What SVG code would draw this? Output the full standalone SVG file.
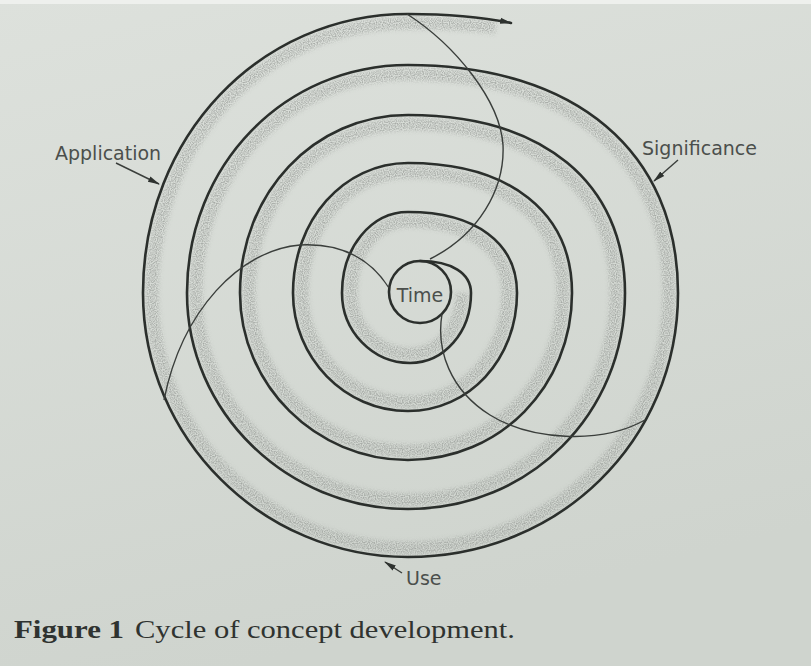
<svg xmlns="http://www.w3.org/2000/svg" width="811" height="666" viewBox="0 0 811 666">
<defs>
<linearGradient id="paper" x1="0" y1="0" x2="0.3" y2="1">
<stop offset="0" stop-color="#dde1dc"/>
<stop offset="1" stop-color="#cfd4ce"/>
</linearGradient>
<filter id="stipple" x="-5%" y="-5%" width="110%" height="110%">
<feGaussianBlur in="SourceGraphic" stdDeviation="2.2" result="b"/>
<feTurbulence type="fractalNoise" baseFrequency="0.85" numOctaves="1" seed="3" result="n"/>
<feColorMatrix in="n" type="matrix" values="0 0 0 0 0  0 0 0 0 0  0 0 0 0 0  0 0 0 -2.4 1.6" result="m"/>
<feComposite in="b" in2="m" operator="in"/>
</filter>
<marker id="ah" viewBox="0 0 12 8" refX="11" refY="4" markerWidth="12" markerHeight="8" markerUnits="userSpaceOnUse" orient="auto">
<path d="M0,1 L12,4 L0,7 z" fill="#2e322f"/>
</marker>
<style>
.ring{fill:none;stroke:#2b2f2c;stroke-width:2.6;stroke-linecap:round}
.band{fill:none;stroke:#7f847f;stroke-width:13;opacity:0.55}
.thin{fill:none;stroke:#3a3e3b;stroke-width:1.4}
.ptr{fill:none;stroke:#3a3e3b;stroke-width:1.4}
.lbl{font-family:"DejaVu Sans",sans-serif;font-size:19px;fill:#4b4f4c}
.cap{font-family:"Liberation Serif",serif;font-size:26px;fill:#2f3330}
</style>
</defs>
<rect width="811" height="666" fill="url(#paper)"/>
<rect width="811" height="4" fill="#eef0ed"/>

<g id="spiral-shading" filter="url(#stipple)">
<path class="band" d="M462,293 C462,327.2 439.1,354 410,354 C377.55,354 351,326.55 351,293 C351,252.7 376.1,221 408,221 C470,221 508,248.4 508,293 C508,354 464,402 408,402 C349.7,402 302,352.95 302,293 C302,225.2 348.6,172 408,172 C504.1,172 563,218 563,293 C563,381.5 494.8,451 408,451 C320.55,451 249,379.9 249,293 C249,198.4 319,124 408,124 C537,124 616,188.2 616,293 C616,408.9 524.5,500 408,500 C291.4,500 196,406.85 196,293 C196,170.4 289.3,74 408,74 C569.8,74 669,157.2 669,293 C669,435.8 554.2,548 408,548 C267.2,548 152,433.25 152,293 C152,141.8 264.6,23 408,23 C450,23 478,25 496,28"/>
</g>

<g id="spiral">
<path class="ring" marker-end="url(#ah)" d="M420,261 C451.6,261 471,273.2 471,293 C471,332.2 444.2,363 410,363 C372.6,363 342,331.5 342,293 C342,247.6 371,212 408,212 C475.6,212 517,242.8 517,293 C517,359.1 469,411 408,411 C344.75,411 293,357.9 293,293 C293,220.2 343.6,163 408,163 C509.7,163 572,212.4 572,293 C572,386.5 499.8,460 408,460 C315.6,460 240,384.85 240,293 C240,193.3 313.9,115 408,115 C542.5,115 625,182.6 625,293 C625,414 529.5,509 408,509 C286.45,509 187,411.8 187,293 C187,165.3 284.2,65 408,65 C575.4,65 678,151.6 678,293 C678,440.8 559.2,557 408,557 C262.25,557 143,438.2 143,293 C143,136.8 259.6,14 408,14 C450,14 482,17 511,23"/>
</g>

<g id="node-time">
<circle class="ring" cx="420" cy="292" r="31"/>
<text class="lbl" x="420" y="302" text-anchor="middle">Time</text>
</g>

<g id="connectors">
<path class="thin" d="M430,259 C478,235 505,190 503,145 C500,100 455,45 407,14"/>
<path class="thin" d="M442,314 C436,350 450,390 490,415 C530,440 600,445 645,420"/>
<path class="thin" d="M389,288 C370,258 340,243 300,245 C240,250 182,310 164,400"/>
<path class="ptr" marker-end="url(#ah)" d="M116,163 L159,184"/>
<path class="ptr" marker-end="url(#ah)" d="M678,160 L654,181"/>
<path class="ptr" marker-end="url(#ah)" d="M402,573 L385,562"/>
</g>

<g id="node-application">
<text class="lbl" x="55" y="160">Application</text>
</g>
<g id="node-significance">
<text class="lbl" x="642" y="155">Significance</text>
</g>
<g id="node-use">
<text class="lbl" x="406" y="585">Use</text>
</g>

<g id="caption">
<text class="cap" x="14" y="638" font-weight="bold" textLength="110" lengthAdjust="spacingAndGlyphs">Figure 1</text>
<text class="cap" x="135" y="638" textLength="380" lengthAdjust="spacingAndGlyphs">Cycle of concept development.</text>
</g>
</svg>
